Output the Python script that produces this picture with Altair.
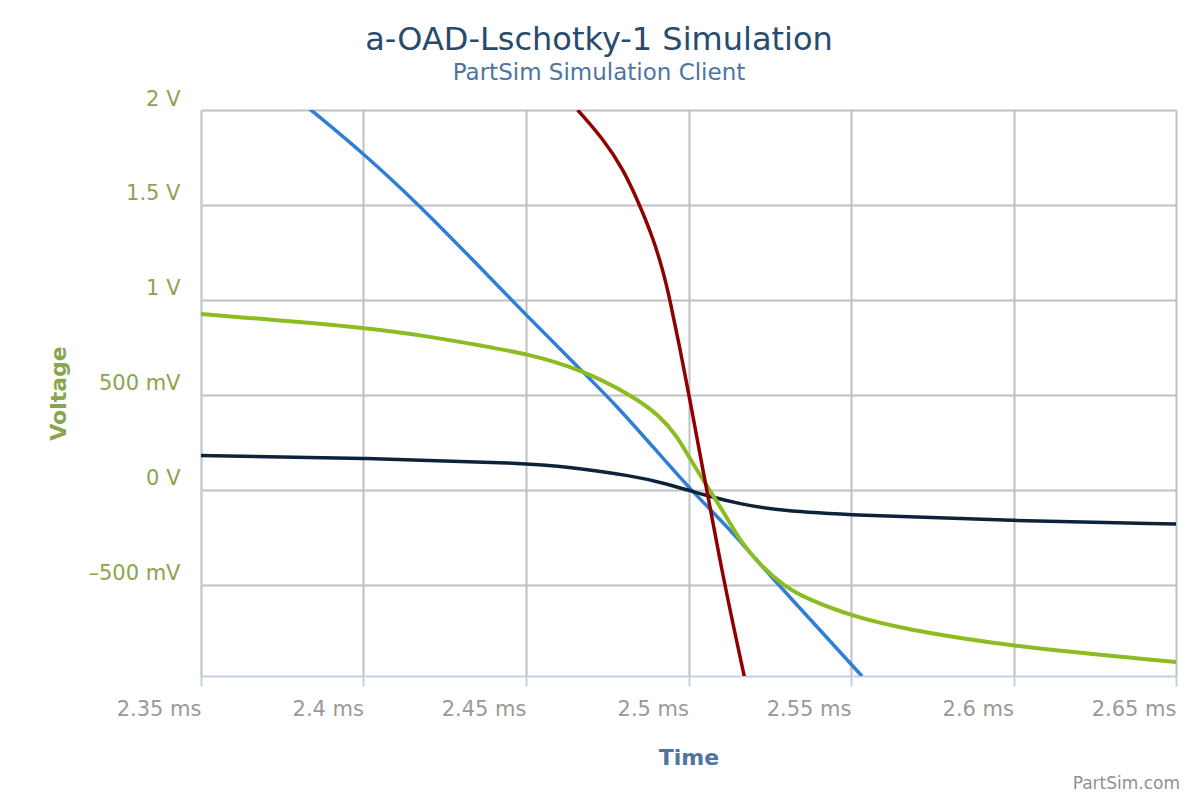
import altair as alt
import pandas as pd

# Transient simulation traces: time in ms, voltage in V
blue_t = [2.3835, 2.3999, 2.4174, 2.4328, 2.4506, 2.4666, 2.4780, 2.4891,
          2.5005, 2.5075, 2.5137, 2.5251, 2.5425, 2.5534]
blue_v = [2.005, 1.774, 1.495, 1.226, 0.911, 0.637, 0.442, 0.226,
          0.005, -0.116, -0.226, -0.451, -0.775, -0.980]

navy_t = [2.35, 2.40, 2.4506, 2.4626, 2.4829, 2.4934, 2.5005, 2.5066,
          2.5158, 2.5282, 2.5497, 2.60, 2.65]
navy_v = [0.181, 0.168, 0.141, 0.121, 0.075, 0.032, -0.004, -0.034,
          -0.074, -0.109, -0.132, -0.162, -0.179]

green_t = [2.35, 2.3999, 2.4214, 2.4368, 2.4506, 2.4666, 2.4829, 2.4912,
           2.4965, 2.5005, 2.5057, 2.5119, 2.5159, 2.5220, 2.5291, 2.5365,
           2.5506, 2.5651, 2.5999, 2.65]
green_v = [0.926, 0.858, 0.805, 0.758, 0.716, 0.637, 0.495, 0.389,
           0.284, 0.163, 0.021, -0.147, -0.268, -0.395, -0.502, -0.574,
           -0.665, -0.728, -0.826, -0.905]

red_t = [2.4659, 2.4738, 2.4799, 2.4851, 2.4892, 2.4923, 2.4943, 2.4974,
         2.5002, 2.5046, 2.5107, 2.5172]
red_v = [2.0, 1.847, 1.689, 1.496, 1.321, 1.146, 1.0, 0.742,
         0.495, 0.093, -0.468, -0.984]

x_ticks = [2.35, 2.40, 2.45, 2.50, 2.55, 2.60, 2.65]
x_tick_labels = ["2.35 ms", "2.4 ms", "2.45 ms", "2.5 ms", "2.55 ms", "2.6 ms", "2.65 ms"]
y_ticks = [2, 1.5, 1, 0.5, 0, -0.5]
y_tick_labels = ["2 V", "1.5 V", "1 V", "500 mV", "0 V", "–500 mV"]

series = [
    ("s1", blue_t, blue_v, "#2f7ed8", 3.5),
    ("s2", navy_t, navy_v, "#0d233a", 3.5),
    ("s3", green_t, green_v, "#8bbc21", 4.0),
    ("s4", red_t, red_v, "#910000", 3.5),
]

rows = []
for name, ts, vs, _, _ in series:
    for t, v in zip(ts, vs):
        rows.append({"series": name, "t": t, "v": v})
df = pd.DataFrame(rows)


def label_expr(values, labels):
    expr = "''"
    for val, lab in reversed(list(zip(values, labels))):
        expr = f"abs(datum.value - ({val})) < 1e-9 ? '{lab}' : ({expr})"
    return expr


FONT = "DejaVu Sans"
W, H = 975, 566

x_enc = alt.X(
    "t:Q",
    scale=alt.Scale(domain=[2.35, 2.65], nice=False, zero=False),
    axis=alt.Axis(
        values=x_ticks, labelExpr=label_expr(x_ticks, x_tick_labels),
        grid=True, gridColor="#C0C0C0", gridWidth=2,
        domainColor="#C0D0E0", domainWidth=2,
        tickColor="#C0D0E0", tickWidth=2, tickSize=10,
        labelAlign="right", labelBaseline="middle", labelPadding=23,
        labelFont=FONT, labelFontSize=21, labelColor="#999999",
        labelFlush=False, labelOverlap=False,
        title="Time", titleFont=FONT, titleFontSize=22, titleFontWeight="bold",
        titleColor="#4d759e", titleX=487.5, titleY=81,
        titleAlign="center", titleBaseline="middle",
    ),
)
y_enc = alt.Y(
    "v:Q",
    scale=alt.Scale(domain=[-0.979, 2], nice=False, zero=False),
    axis=alt.Axis(
        values=y_ticks, labelExpr=label_expr(y_ticks, y_tick_labels),
        grid=True, gridColor="#C0C0C0", gridWidth=2,
        domainColor="#C0D0E0", domainWidth=2,
        ticks=False, tickSize=0,
        labelPadding=21, labelOffset=-11, labelBaseline="middle",
        labelFont=FONT, labelFontSize=21, labelColor="#89A54E",
        labelFlush=False, labelOverlap=False,
        title="Voltage", titleFont=FONT, titleFontSize=22, titleFontWeight="bold",
        titleColor="#89A54E", titleX=-143, titleY=283, titleAngle=270,
        titleAlign="center", titleBaseline="middle",
    ),
)

base = alt.Chart(df).encode(x=x_enc, y=y_enc)

layers = []
for name, _, _, color, width in series:
    layers.append(
        base.transform_filter(alt.datum.series == name).mark_line(
            color=color, strokeWidth=width, interpolate="basis", clip=True
        )
    )


def text_layer(text, x, y, size, color, weight="normal", align="center"):
    return alt.Chart(pd.DataFrame({"label": [text]})).mark_text(
        font=FONT, fontSize=size, color=color, fontWeight=weight,
        align=align, baseline="alphabetic",
    ).encode(text="label:N", x=alt.value(x), y=alt.value(y))


title = text_layer("a-OAD-Lschotky-1 Simulation", 398, -60, 32, "#274b6d")
subtitle = text_layer("PartSim Simulation Client", 398, -30, 23, "#4d759e")
credits = text_layer("PartSim.com", 979, 679, 17, "#909090", align="right")

chart = alt.layer(*layers, title, subtitle, credits).properties(
    width=W, height=H,
    autosize=alt.AutoSizeParams(type="none"),
    padding={"left": 201, "top": 110, "right": 24, "bottom": 124},
    background="#ffffff",
).configure_view(stroke=None)

chart.save("out.html", embed_options={"renderer": "svg", "actions": False})
